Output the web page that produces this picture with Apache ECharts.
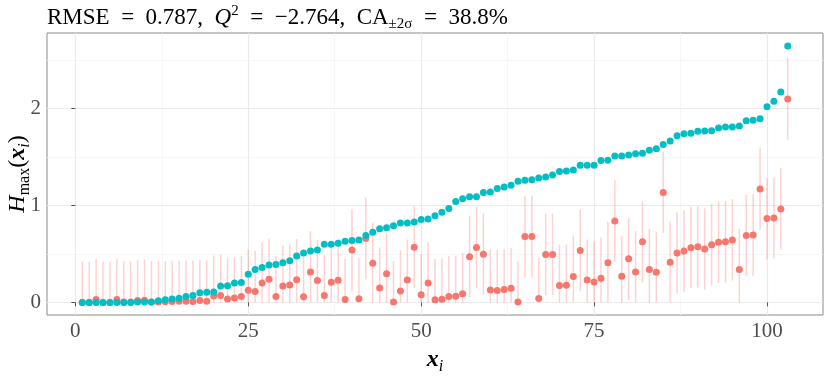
<!DOCTYPE html>
<html lang="en">
<head>
    <meta charset="UTF-8">
    <script src="https://cdn.jsdelivr.net/npm/echarts@6/dist/echarts.min.js"></script>
    <title>Hmax</title>
</head>
<body style="margin:0;">
<div id="container" style="width:830px;height:381px;"></div>
<script>
    // sorted observed values (teal) and predictions (red), index 1..103
    const observed = [
        0.000, 0.000, 0.000, 0.000, 0.000, 0.000, 0.000, 0.000, 0.003, 0.004,
        0.005, 0.017, 0.027, 0.035, 0.042, 0.062, 0.070, 0.100, 0.105, 0.108,
        0.170, 0.172, 0.200, 0.205, 0.290, 0.340, 0.360, 0.385, 0.390, 0.410,
        0.430, 0.480, 0.510, 0.530, 0.540, 0.600, 0.600, 0.610, 0.630, 0.640,
        0.645, 0.690, 0.725, 0.760, 0.770, 0.790, 0.820, 0.820, 0.830, 0.855,
        0.860, 0.895, 0.930, 0.970, 1.040, 1.070, 1.090, 1.090, 1.135, 1.140,
        1.175, 1.190, 1.210, 1.250, 1.260, 1.265, 1.285, 1.295, 1.315, 1.350,
        1.355, 1.365, 1.415, 1.415, 1.415, 1.465, 1.467, 1.512, 1.512, 1.520,
        1.535, 1.540, 1.570, 1.585, 1.630, 1.665, 1.720, 1.740, 1.745, 1.765,
        1.770, 1.772, 1.800, 1.810, 1.810, 1.820, 1.875, 1.880, 1.895, 2.020,
        2.075, 2.170, 2.645
    ];
    const predicted = [
        0.000, 0.000, 0.030, 0.000, 0.000, 0.030, 0.005, 0.005, 0.020, 0.022,
        0.005, 0.005, 0.006, 0.010, 0.013, 0.012, 0.010, 0.020, 0.013, 0.065,
        0.072, 0.035, 0.045, 0.060, 0.125, 0.112, 0.200, 0.240, 0.060, 0.170,
        0.180, 0.235, 0.058, 0.315, 0.225, 0.070, 0.208, 0.228, 0.030, 0.540,
        0.037, 0.660, 0.405, 0.148, 0.295, 0.005, 0.118, 0.230, 0.570, 0.078,
        0.200, 0.028, 0.032, 0.060, 0.063, 0.090, 0.470, 0.567, 0.497, 0.128,
        0.122, 0.132, 0.145, 0.003, 0.680, 0.680, 0.040, 0.495, 0.495, 0.175,
        0.177, 0.268, 0.535, 0.230, 0.210, 0.250, 0.410, 0.840, 0.270, 0.450,
        0.315, 0.625, 0.340, 0.310, 1.135, 0.415, 0.510, 0.530, 0.565, 0.575,
        0.550, 0.595, 0.620, 0.625, 0.645, 0.340, 0.690, 0.695, 1.170, 0.865,
        0.870, 0.965, 2.100
    ];
    const ciHalfWidth = 0.42;   // +-2 sigma
    const xTicks = [0, 25, 50, 75, 100];
    const xMinor = [12.5, 37.5, 62.5, 87.5];
    const yTicks = [0, 1, 2];
    const yMinor = [0.5, 1.5, 2.5];

    const serif = 'Liberation Serif';
    const red = '#F8766D', teal = '#00BFC4';
    const eq = '\u2002=\u2002';

    let index = observed.map(function (v, i) { return i + 1; });
    let bars = index.map(function (x, k) {
        return [x, Math.max(0, predicted[k] - ciHalfWidth), predicted[k] + ciHalfWidth];
    });

    let dom = document.getElementById('container');
    let myChart = echarts.init(dom);

    option = {
        animation: false,
        title: {
            left: 47,
            top: 4,
            padding: 0,
            text: '{t|RMSE' + eq + '0.787,  }{q|Q}{sup|2}{t|' + eq + '−2.764,  CA}{sub|±2σ}{t|' + eq + '38.8%}',
            textStyle: {
                fontWeight: 'normal',
                rich: {
                    t: {fontFamily: serif, fontSize: 23, fontWeight: 'normal', color: '#000', lineHeight: 28},
                    q: {fontFamily: serif, fontSize: 23, fontWeight: 'normal', fontStyle: 'italic', color: '#000', lineHeight: 28},
                    sup: {fontFamily: serif, fontSize: 15, fontWeight: 'normal', color: '#000', lineHeight: 15, verticalAlign: 'top'},
                    sub: {fontFamily: serif, fontSize: 15, fontWeight: 'normal', color: '#000', lineHeight: 15, verticalAlign: 'bottom'}
                }
            }
        },
        grid: {
            left: 47, right: 7, top: 33, bottom: 66,
            containLabel: false,
            outerBoundsMode: 'none',
            show: true, borderColor: '#8a8a8a', borderWidth: 1
        },
        xAxis: {
            type: 'value',
            min: -4.1, max: 108.1,
            splitLine: {show: false},
            axisLine: {show: false},
            axisTick: {show: true, customValues: xTicks, length: 4, lineStyle: {color: '#555'}},
            axisLabel: {customValues: xTicks, fontFamily: serif, fontSize: 21, color: '#4D4D4D', margin: 6},
            name: '{x|x}{s|i}',
            nameLocation: 'middle',
            nameGap: 30,
            nameTextStyle: {
                rich: {
                    x: {fontFamily: serif, fontSize: 24, fontWeight: 'bold', fontStyle: 'italic', color: '#000', lineHeight: 30},
                    s: {fontFamily: serif, fontSize: 16, fontStyle: 'italic', color: '#000', lineHeight: 16, verticalAlign: 'bottom'}
                }
            }
        },
        yAxis: {
            type: 'value',
            min: -0.13, max: 2.78,
            splitLine: {show: false},
            axisLine: {show: false},
            axisTick: {show: true, customValues: yTicks, length: 4, lineStyle: {color: '#555'}},
            axisLabel: {customValues: yTicks, fontFamily: serif, fontSize: 21, color: '#4D4D4D', margin: 6},
            name: '{h|H}{s|max}{p|(}{x|x}{si|i}{p|)}',
            nameLocation: 'middle',
            nameRotate: 90,
            nameGap: 14,
            nameMoveOverlap: false,
            nameTextStyle: {
                rich: {
                    h: {fontFamily: serif, fontSize: 24, fontStyle: 'italic', color: '#000', lineHeight: 30},
                    p: {fontFamily: serif, fontSize: 24, color: '#000', lineHeight: 30},
                    x: {fontFamily: serif, fontSize: 24, fontWeight: 'bold', fontStyle: 'italic', color: '#000', lineHeight: 30},
                    s: {fontFamily: serif, fontSize: 16, color: '#000', lineHeight: 16, verticalAlign: 'bottom'},
                    si: {fontFamily: serif, fontSize: 16, fontStyle: 'italic', color: '#000', lineHeight: 16, verticalAlign: 'bottom'}
                }
            }
        },
        series: [
            {
                // panel grid
                type: 'line',
                data: [],
                z: 0,
                silent: true,
                markLine: {
                    z: 0,
                    silent: true,
                    symbol: 'none',
                    label: {show: false},
                    lineStyle: {color: '#EBEBEB', width: 1.2, type: 'solid'},
                    data: xTicks.map(function (v) { return {xAxis: v}; })
                        .concat(yTicks.map(function (v) { return {yAxis: v}; }))
                        .concat(xMinor.map(function (v) { return {xAxis: v, lineStyle: {color: '#F4F4F4', width: 0.8}}; }))
                        .concat(yMinor.map(function (v) { return {yAxis: v, lineStyle: {color: '#F4F4F4', width: 0.8}}; }))
                }
            },
            {
                type: 'custom',
                data: bars,
                z: 2,
                encode: {x: 0, y: [1, 2]},
                renderItem: function (params, api) {
                    let lo = api.coord([api.value(0), api.value(1)]);
                    let hi = api.coord([api.value(0), api.value(2)]);
                    return {
                        type: 'line',
                        shape: {x1: lo[0], y1: lo[1], x2: hi[0], y2: hi[1]},
                        style: {stroke: 'rgba(248,118,109,0.32)', lineWidth: 1.5}
                    };
                }
            },
            {
                type: 'scatter',
                z: 3,
                symbolSize: 7,
                itemStyle: {color: red, opacity: 1},
                data: index.map(function (x, k) { return [x, predicted[k]]; })
            },
            {
                type: 'scatter',
                z: 4,
                symbolSize: 7,
                itemStyle: {color: teal, opacity: 1},
                data: index.map(function (x, k) { return [x, observed[k]]; })
            }
        ]
    };

    myChart.setOption(option);
</script>
</body>
</html>
